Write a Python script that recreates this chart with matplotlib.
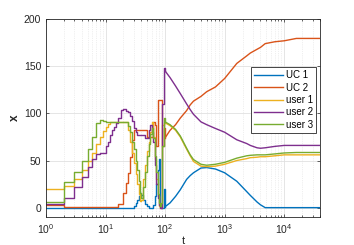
import matplotlib
matplotlib.use("Agg")
import matplotlib.pyplot as plt
import numpy as np

plt.rcParams['font.family'] = ['Liberation Sans', 'DejaVu Sans']
plt.rcParams['mathtext.default'] = 'regular'

labels = ["UC 1", "UC 2", "user 1", "user 2", "user 3"]
colors = ["#0072BD", "#D95319", "#EDB120", "#7E2F8E", "#77AC30"]

# early (stepwise) phase
t_early = [1, 2, 3, 4, 5, 6, 7, 8, 9, 10, 11, 12, 13, 14, 15, 16, 18, 20, 22, 24, 26, 28,
           30, 32, 34, 36, 38, 40, 43, 46, 50, 53, 56, 60, 63, 67, 71, 75, 78, 82, 86, 90, 95, 100]
uc1_early = [0, 0, 0, 0, 0, 0, 0, 0, 0, 0, 0, 0, 0, 0, 0, 0, 0, 0, 0, 0, 0, 0,
             2, 5, 8, 12, 16, 13, 8, 4, 2, 0, 0, 0, 3, 12, 25, 40, 52, 3, 0, 0, 20, 1]
uc2_early = [2.5, 1, 1, 1, 1, 1, 1, 1, 1, 1, 1, 1, 1, 1, 1, 4, 4, 16, 26, 37, 54, 72,
             82, 82, 82, 82, 82, 82, 82, 82, 75, 75, 75, 75, 91, 88, 65, 114, 114, 114, 114, 65, 85, 74]
user1_early = [20, 23, 30, 40, 50, 58, 67, 75, 81, 86, 89, 91, 91, 91, 91, 91, 91, 91, 91, 82, 70, 58,
               47, 36, 25, 15, 7, 8, 30, 45, 60, 70, 80, 91, 75, 52, 30, 12, 2, 0, 0, 88, 90, 90]
user2_early = [4, 10, 22, 33, 43, 52, 57, 58, 58, 65, 70, 77, 82, 86, 90, 95, 104, 105, 103, 101, 97, 92,
               85, 80, 77, 77, 77, 77, 77, 74, 74, 82, 88, 80, 70, 45, 25, 10, 3, 0, 0, 110, 148, 145]
user3_early = [6, 27, 38, 50, 62, 75, 90, 93, 92, 91, 91, 91, 91, 91, 91, 91, 91, 91, 91, 87, 80, 70,
               62, 50, 40, 28, 16, 10, 22, 38, 55, 68, 78, 85, 74, 55, 38, 15, 5, 2, 5, 65, 95, 91]

# late (smooth) phase
t_late = [100, 121, 150, 180, 230, 264, 300, 400, 500, 700, 1000, 1600, 2350, 2700, 3500, 4000,
          4800, 7000, 10000, 16000, 40000]
uc1_late = [1, 5, 12, 19, 30, 34, 37, 42, 42.5, 41, 37, 28, 17, 13, 6, 3, 0, 0, 0, 0, 0]
uc2_late = [74, 82, 88, 95, 103, 109, 113, 118, 123, 128, 137, 153, 161, 164, 168, 170, 174, 176, 177, 179.5, 179.5]
user1_late = [90, 87, 82, 75, 62, 55, 49, 44, 43.5, 44, 46, 50, 52, 53, 53.5, 54, 54, 55, 56, 56, 56]
user2_late = [145, 138, 129, 121, 110, 104, 99, 91, 88, 84, 80, 72, 68, 66, 63.5, 63, 63.5, 65, 66, 66, 66]
user3_late = [91, 88, 83, 76, 63, 56, 51, 46, 45, 46, 48, 52.5, 55, 55.5, 56, 56, 56, 57, 58, 58.5, 58.5]

early = [uc1_early, uc2_early, user1_early, user2_early, user3_early]
late = [uc1_late, uc2_late, user1_late, user2_late, user3_late]

fig = plt.figure(figsize=(3.54, 2.45), dpi=100)
ax = fig.add_axes([0.130, 0.114, 0.774, 0.808])

for e, l, c, lab in zip(early, late, colors, labels):
    ax.plot(t_early, e, drawstyle='steps-post', color=c, lw=1.0, label=lab)
    ax.plot(t_late, l, color=c, lw=1.0)

ax.set_xscale('log')
ax.set_xlim(1, 4e4)
ax.set_ylim(-10, 200)
ax.set_yticks([0, 50, 100, 150, 200])
ax.grid(True, which='major', color='#e0e0e0', lw=0.6)
ax.grid(True, which='minor', axis='x', color='#e0e0e0', lw=0.5, ls=':')
ax.set_axisbelow(True)
ax.tick_params(direction='in', which='both', top=True, right=True, labelsize=7.5,
               colors='#262626', length=2.5, width=0.5)
ax.tick_params(which='minor', length=1.5)
for s in ax.spines.values():
    s.set_color('#262626')
    s.set_linewidth(0.6)
ax.set_xlabel('t', fontsize=8, labelpad=0, color='#262626')
ax.set_ylabel('x', fontsize=8.5, labelpad=2, color='#262626', fontweight='bold')

leg = ax.legend(loc='upper right', bbox_to_anchor=(0.985, 0.757), fontsize=7,
                frameon=True, fancybox=False, edgecolor='#262626', framealpha=1,
                handlelength=3.0, handletextpad=0.3, borderpad=0.3, labelspacing=0.25,
                borderaxespad=0.0)
leg.get_frame().set_linewidth(0.6)

fig.savefig('out.png', dpi=100)
